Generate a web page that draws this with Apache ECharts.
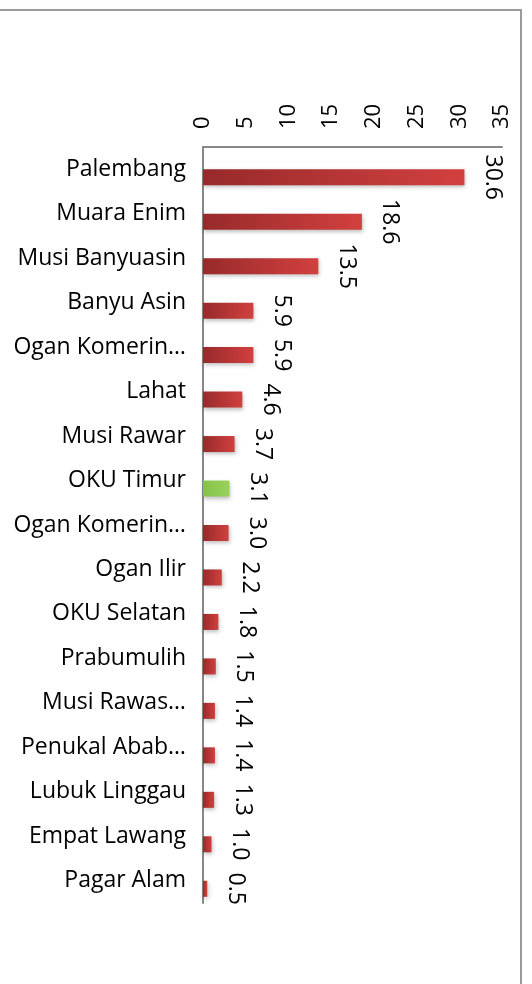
<!DOCTYPE html>
<html>
<head>
<meta charset="utf-8">
<script src="https://cdn.jsdelivr.net/npm/echarts@6/dist/echarts.min.js"></script>
<style>
html, body { margin: 0; padding: 0; background: #fff; }
#chart { width: 532px; height: 984px; }
</style>
</head>
<body>
<div id="chart"></div>
<script>
var regions = ['Palembang', 'Muara Enim', 'Musi Banyuasin', 'Banyu Asin', 'Ogan Komerin…', 'Lahat',
    'Musi Rawar', 'OKU Timur', 'Ogan Komerin…', 'Ogan Ilir', 'OKU Selatan', 'Prabumulih',
    'Musi Rawas…', 'Penukal Abab…', 'Lubuk Linggau', 'Empat Lawang', 'Pagar Alam'];
var values = [30.6, 18.6, 13.5, 5.9, 5.9, 4.6, 3.7, 3.1, 3.0, 2.2, 1.8, 1.5, 1.4, 1.4, 1.3, 1.0, 0.5];
var highlight = 'OKU Timur';
var axisMin = 0, axisMax = 35, axisStep = 5;

var fontName = 'Open Sans';
var axisGrey = '#878787';

var redFill = {
    type: 'linear', x: 0, y: 0, x2: 1, y2: 0,
    colorStops: [{ offset: 0, color: '#982a2b' }, { offset: 1, color: '#d2403f' }]
};
var greenFill = {
    type: 'linear', x: 0, y: 0, x2: 1, y2: 0,
    colorStops: [{ offset: 0, color: '#86c24a' }, { offset: 1, color: '#98d25a' }]
};

var myChart = echarts.init(document.getElementById('chart'));

var barData = values.map(function (v, i) {
    var item = { value: v };
    if (regions[i] === highlight) item.itemStyle = { color: greenFill };
    return item;
});

var option = {
    backgroundColor: '#fff',
    animation: false,
    graphic: [{
        type: 'polyline',
        shape: { points: [[0, 10], [521, 10], [521, 984]] },
        style: { stroke: '#9a9a9a', lineWidth: 2, fill: null }
    }],
    grid: { left: 203, right: 30, top: 147, bottom: 81 },
    xAxis: {
        type: 'value',
        position: 'top',
        min: axisMin,
        max: axisMax,
        interval: axisStep,
        splitLine: { show: false },
        axisTick: { show: false },
        axisLine: { show: true, lineStyle: { color: axisGrey, width: 2 } },
        axisLabel: {
            rotate: -90,
            margin: 18,
            fontSize: 22,
            fontFamily: fontName,
            color: '#000'
        }
    },
    yAxis: {
        type: 'category',
        inverse: true,
        data: regions,
        axisTick: { show: false },
        axisLine: { show: true, lineStyle: { color: axisGrey, width: 2 } },
        axisLabel: {
            margin: 17,
            padding: [6, 0, 0, 0],
            fontSize: 23,
            fontFamily: fontName,
            color: '#000'
        }
    },
    series: [
        {
            // empty slot so the real bars sit a little below the label line
            type: 'bar',
            barWidth: 16,
            barGap: '0%',
            silent: true,
            data: []
        },
        {
            type: 'bar',
            barWidth: 16,
            barGap: '0%',
            data: barData,
            itemStyle: {
                color: redFill,
                shadowBlur: 4,
                shadowOffsetX: 1,
                shadowOffsetY: 2,
                shadowColor: 'rgba(0,0,0,0.25)'
            },
            label: {
                show: true,
                position: 'right',
                distance: 28,
                rotate: -90,
                align: 'center',
                verticalAlign: 'middle',
                fontSize: 23,
                fontFamily: fontName,
                color: '#000',
                formatter: function (p) { return p.value.toFixed(1); }
            }
        }
    ]
};
myChart.setOption(option);
</script>
</body>
</html>
